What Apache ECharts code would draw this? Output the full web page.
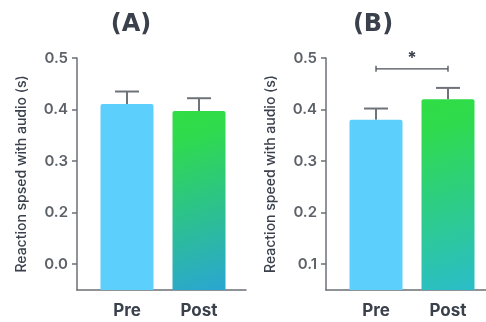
<!DOCTYPE html>
<html><head><meta charset="utf-8">
<script src="https://cdn.jsdelivr.net/npm/echarts@6/dist/echarts.min.js"></script>
<style>html,body{margin:0;padding:0;background:#fff}#c{width:486px;height:322px}</style>
</head><body><div id="c"></div>
<script>
const categories = ['Pre', 'Post'];
const meansA = [0.411, 0.397];
const upperA = [0.435, 0.422];
const meansB = [0.380, 0.420];
const upperB = [0.402, 0.442];
const tickValues = [0.1, 0.2, 0.3, 0.4, 0.5];
const tickLabelsA = ['0.0', '0.2', '0.3', '0.4', '0.5'];
const tickLabelsB = ['0.1', '0.2', '0.3', '0.4', '0.5'];
const yNameA = 'Reaction spsed with audio (s)';
const yNameB = 'Reaction speed with audio (s)';
const sigBracketB = [[0, 1, 0.479]];
const sigText = '*';

const chart = echarts.init(document.getElementById('c'), null, {renderer: 'canvas'});
const axisColor = '#6b6f75';
const textDark = '#3a414c';
const tickColor = '#5d6168';
const fontFam = 'Inter, "DejaVu Sans", sans-serif';

function postGradient(bottom) {
  return new echarts.graphic.LinearGradient(0, 0, 1, 1, [
    {offset: 0, color: '#2fdd45'},
    {offset: 0.15, color: '#2fdb4c'},
    {offset: 1, color: bottom}
  ]);
}
function barData(means, bottom) {
  return means.map((v, i) => ({
    value: v,
    itemStyle: {color: i === 0 ? '#5dcffc' : postGradient(bottom), borderRadius: [2, 2, 0, 0]}
  }));
}
function errRender(params, api) {
  const i = api.value(0);
  const p0 = api.coord([i, api.value(1)]);
  const p1 = api.coord([i, api.value(2)]);
  const half = 12;
  return {type: 'group', children: [
    {type: 'line', shape: {x1: p0[0], y1: p0[1], x2: p1[0], y2: p1[1]}, style: {stroke: '#6e7379', lineWidth: 2}},
    {type: 'line', shape: {x1: p1[0] - half, y1: p1[1], x2: p1[0] + half, y2: p1[1]}, style: {stroke: '#6e7379', lineWidth: 2}}
  ]};
}
function bracketRender(params, api) {
  const a = api.coord([api.value(0), api.value(2)]);
  const b = api.coord([api.value(1), api.value(2)]);
  const c = '#4a4f57';
  return {type: 'group', children: [
    {type: 'line', shape: {x1: a[0], y1: a[1], x2: b[0], y2: b[1]}, style: {stroke: c, lineWidth: 1.3}},
    {type: 'line', shape: {x1: a[0], y1: a[1] - 3, x2: a[0], y2: a[1] + 3}, style: {stroke: c, lineWidth: 1.3}},
    {type: 'line', shape: {x1: b[0], y1: b[1] - 3, x2: b[0], y2: b[1] + 3}, style: {stroke: c, lineWidth: 1.3}},
    {type: 'text', style: {text: sigText, x: (a[0] + b[0]) / 2, y: a[1] - 10, align: 'center', verticalAlign: 'middle',
      font: 'bold 17px ' + fontFam, fill: '#3a414c'}}
  ]};
}
function yAxisFor(labels, name, gi) {
  return {
    type: 'value', gridIndex: gi, min: 0.05, max: 0.5, offset: 14,
    name: name, nameLocation: 'middle', nameGap: 48, nameRotate: 90,
    nameTextStyle: {color: textDark, fontSize: 14, fontFamily: fontFam, fontWeight: 500},
    axisLine: {show: true, lineStyle: {color: axisColor, width: 1.5}},
    axisTick: {show: true, length: 5, lineStyle: {color: axisColor, width: 1.5}, customValues: tickValues},
    axisLabel: {color: tickColor, fontSize: 15, fontFamily: fontFam, fontWeight: 600, margin: 9,
      customValues: tickValues,
      formatter: (v) => { const k = tickValues.findIndex(t => Math.abs(t - v) < 1e-6); return k >= 0 ? labels[k] : ''; }},
    splitLine: {show: false}
  };
}
function xAxisFor(gi) {
  return {
    type: 'category', gridIndex: gi, data: categories,
    axisLine: {show: false}, axisTick: {show: false},
    axisLabel: {color: textDark, fontSize: 17, fontWeight: 'bold', fontFamily: fontFam, margin: 12}
  };
}
function lineAxis(gi) {
  return {type: 'value', gridIndex: gi, min: 0, max: 1, position: 'bottom',
    axisLine: {show: true, lineStyle: {color: axisColor, width: 1.5}}, axisTick: {show: false},
    axisLabel: {show: false}, splitLine: {show: false}};
}
function hiddenY(gi) {
  return {type: 'value', gridIndex: gi, show: false};
}

chart.setOption({
  animation: false,
  title: [
    {text: '(A)', left: 126, top: 8, textAlign: 'center', textStyle: {fontSize: 24, fontWeight: 'bold', color: textDark, fontFamily: '"DejaVu Sans", sans-serif'}},
    {text: '(B)', left: 368, top: 8, textAlign: 'center', textStyle: {fontSize: 24, fontWeight: 'bold', color: textDark, fontFamily: '"DejaVu Sans", sans-serif'}}
  ],
  grid: [
    {left: 91, width: 144, top: 58, height: 232},
    {left: 340, width: 144, top: 58, height: 232},
    {left: 77, width: 169, top: 58, height: 232},
    {left: 326, width: 160, top: 58, height: 232}
  ],
  xAxis: [xAxisFor(0), xAxisFor(1), lineAxis(2), lineAxis(3)],
  yAxis: [yAxisFor(tickLabelsA, yNameA, 0), yAxisFor(tickLabelsB, yNameB, 1), hiddenY(2), hiddenY(3)],
  series: [
    {type: 'bar', xAxisIndex: 0, yAxisIndex: 0, barWidth: 53, data: barData(meansA, '#2aa6d2'), z: 2},
    {type: 'custom', xAxisIndex: 0, yAxisIndex: 0, renderItem: errRender, z: 1,
      data: categories.map((c, i) => [i, meansA[i], upperA[i]])},
    {type: 'bar', xAxisIndex: 1, yAxisIndex: 1, barWidth: 53, data: barData(meansB, '#2bbdc9'), z: 2},
    {type: 'custom', xAxisIndex: 1, yAxisIndex: 1, renderItem: errRender, z: 1,
      data: categories.map((c, i) => [i, meansB[i], upperB[i]])},
    {type: 'custom', xAxisIndex: 1, yAxisIndex: 1, renderItem: bracketRender, clip: false, data: sigBracketB, z: 3}
  ]
});
</script></body></html>
